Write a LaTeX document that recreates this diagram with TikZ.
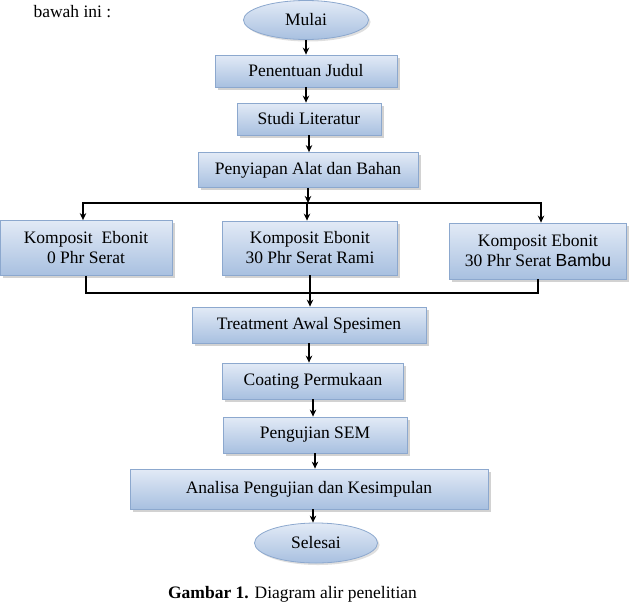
\documentclass[tikz,border=0pt]{standalone}
\usepackage{fontspec}
\setmainfont{Liberation Serif}
\newfontfamily\arialfont{Liberation Sans}
\usepackage{tikz}
\usetikzlibrary{arrows,arrows.meta}
\usetikzlibrary{shapes}
\usetikzlibrary{shadows}
\usetikzlibrary{calc}
\usetikzlibrary{positioning}
\definecolor{kotakatas}{RGB}{226,234,246}
\definecolor{kotakbawah}{RGB}{168,192,224}
\definecolor{garistepi}{RGB}{140,168,206}
\tikzstyle{proses}=[rectangle, draw=garistepi, line width=0.8pt, top color=kotakatas, bottom color=kotakbawah, drop shadow={shadow xshift=2.5pt, shadow yshift=-2.5pt, fill=black!35}, inner sep=0pt, text centered, align=center, font=\fontsize{17.5}{20}\selectfont]
\tikzstyle{terminal}=[ellipse, draw=garistepi, line width=0.8pt, top color=kotakatas, bottom color=kotakbawah, drop shadow={shadow xshift=2pt, shadow yshift=-2pt, fill=black!25}, inner sep=0pt, text centered, font=\fontsize{17.5}{20}\selectfont]
\tikzstyle{tran}=[draw,-{Stealth[length=7pt,width=6.5pt]}, line width=1.3pt]
\tikzstyle{garis}=[draw, line width=1.3pt]

\begin{document}
\begin{tikzpicture}[x=1pt, y=-1pt]

\useasboundingbox (0,0) rectangle (629,603);

\node[anchor=base west, font=\fontsize{17.5}{20}\selectfont] (pengantar) at (30,17) {bawah ini :};

\node[terminal, minimum width=125pt, minimum height=39pt] (mulai) at (306,20) {Mulai};

\node[proses, minimum width=182pt, minimum height=32pt] (judul) at (306,71) {Penentuan Judul};

\node[proses, minimum width=144pt, minimum height=32pt] (studi) at (309,119) {Studi Literatur};

\node[proses, minimum width=220pt, minimum height=35pt] (alat) at (308,170) {Penyiapan Alat dan Bahan};

\node[proses, minimum width=172pt, minimum height=55pt] (k0) at (86,248)
{Komposit\ \ Ebonit\\0 Phr Serat};

\node[proses, minimum width=175pt, minimum height=54pt] (k30r) at (310,248)
{Komposit Ebonit\\30 Phr Serat Rami};

\node[proses, minimum width=177pt, minimum height=56pt] (k30b) at (538,251)
{Komposit Ebonit\\30 Phr Serat {\arialfont Bambu}};

\node[proses, minimum width=234pt, minimum height=36pt] (treat) at (309,325) {Treatment Awal Spesimen};

\node[proses, minimum width=181pt, minimum height=36pt] (coat) at (313,381) {Coating Permukaan};

\node[proses, minimum width=184pt, minimum height=36pt] (sem) at (315,435) {Pengujian SEM};

\node[proses, minimum width=358pt, minimum height=40pt] (analisa) at (309,489) {Analisa Pengujian dan Kesimpulan};

\node[terminal, minimum width=123pt, minimum height=40pt] (selesai) at (316,543) {Selesai};

\node[anchor=base, font=\fontsize{17.5}{20}\selectfont] (judulgambar) at (292.5,598)
{\textbf{Gambar 1.} Diagram alir penelitian};

\coordinate (cabang) at (307,203);
\coordinate (gabung) at (310,293);

\draw[tran] (mulai.south)   -- (mulai.south |- judul.north);
\draw[tran] (judul.south)   -- (judul.south |- studi.north);
\draw[tran] (studi.south)   -- (studi.south |- alat.north);
\draw[tran] (alat.south)    -- (alat.south |- cabang);
\draw[tran] (cabang)        -| ([xshift=-3pt]k0.north);
\draw[tran] (cabang)        -- (cabang |- k30r.north);
\draw[tran] (cabang)        -| ([xshift=3pt]k30b.north);
\draw[garis] (k0.south) -- (k0.south |- gabung) -- (k30b.south |- gabung) -- (k30b.south);
\draw[tran] (k30r.south)    -- (k30r.south |- treat.north);
\draw[tran] (treat.south)   -- (treat.south |- coat.north);
\draw[tran] (coat.south)    -- (coat.south |- sem.north);
\draw[tran] (sem.south)     -- (sem.south |- analisa.north);
\draw[tran] ([xshift=4pt]analisa.south) -- ([xshift=4pt]analisa.south |- selesai.north);

\end{tikzpicture}
\end{document}
